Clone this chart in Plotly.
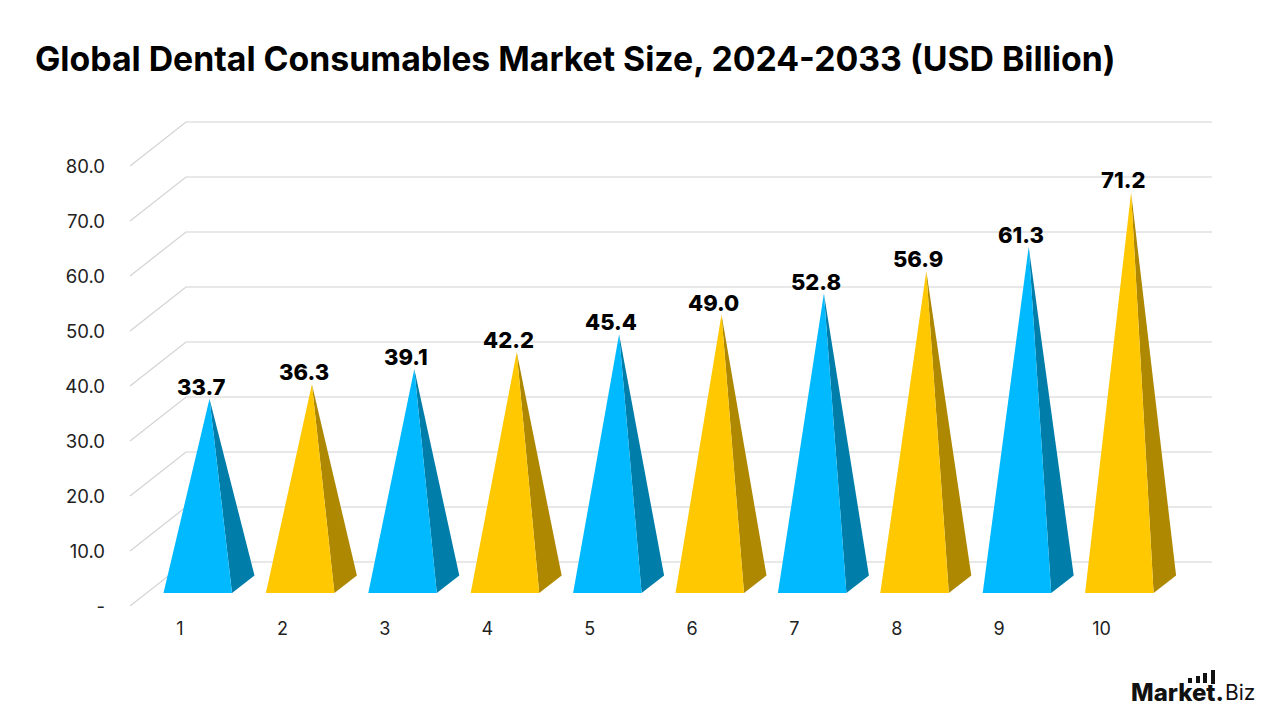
import plotly.graph_objects as go

# Chart data
categories = [1, 2, 3, 4, 5, 6, 7, 8, 9, 10]
market_size = [33.7, 36.3, 39.1, 42.2, 45.4, 49.0, 52.8, 56.9, 61.3, 71.2]
value_labels = ["33.7", "36.3", "39.1", "42.2", "45.4", "49.0", "52.8", "56.9", "61.3", "71.2"]
y_ticks = [0, 10, 20, 30, 40, 50, 60, 70, 80]
y_tick_labels = ["-", "10.0", "20.0", "30.0", "40.0", "50.0", "60.0", "70.0", "80.0"]

# Alternating pyramid colours: (front face, side face)
BLUE = ("#00B9FF", "#007EA9")
GOLD = ("#FFC800", "#AD8800")

FONT = "Inter"
TEXT = "#222222"
GRID = "#D2D2D2"

# Canvas and plot area, in pixels
W, H = 1280, 720
LEFT, RIGHT, TOP, BOTTOM = 130, 1212, 111, 606
PX_PER_CAT = 102.4
PX_PER_UNIT = 5.5
X_RANGE = [1 - (180 - LEFT) / PX_PER_CAT, 1 + (RIGHT - 180) / PX_PER_CAT]
Y_RANGE = [0, (BOTTOM - TOP) / PX_PER_UNIT]


def dx(px):
    return px / PX_PER_CAT


def dy(px):
    return px / PX_PER_UNIT


def paper_x(px):
    return (px - LEFT) / (RIGHT - LEFT)


def paper_y(px):
    return (BOTTOM - px) / (BOTTOM - TOP)


fig = go.Figure()

# Gridlines: a diagonal over the side wall, then a level run across the back wall
WALL_DX, WALL_DY = dx(56), dy(44)
for v in y_ticks:
    fig.add_trace(go.Scatter(
        x=[X_RANGE[0], X_RANGE[0] + WALL_DX, X_RANGE[1]],
        y=[v, v + WALL_DY, v + WALL_DY],
        mode="lines",
        line=dict(color=GRID, width=1.2),
        hoverinfo="skip",
        showlegend=False,
    ))

# Pyramids: a front face and a side face meeting at the apex
BASE_LEFT, BASE_RIGHT = dx(-16.5), dx(52)
BASE_Y = dy(13)
DEPTH_DX, DEPTH_DY = dx(22.5), dy(17.5)
APEX_DX, APEX_Y = dx(29.5), dy(22)

for i, (cat, val) in enumerate(zip(categories, market_size)):
    front, side = BLUE if i % 2 == 0 else GOLD
    apex_x, apex_y = cat + APEX_DX, val + APEX_Y
    fig.add_trace(go.Scatter(
        x=[cat + BASE_RIGHT, cat + BASE_RIGHT + DEPTH_DX, apex_x, cat + BASE_RIGHT],
        y=[BASE_Y, BASE_Y + DEPTH_DY, apex_y, BASE_Y],
        mode="lines", fill="toself", fillcolor=side,
        line=dict(width=0), hoverinfo="skip", showlegend=False,
    ))
    fig.add_trace(go.Scatter(
        x=[cat + BASE_LEFT, cat + BASE_RIGHT, apex_x, cat + BASE_LEFT],
        y=[BASE_Y, BASE_Y, apex_y, BASE_Y],
        mode="lines", fill="toself", fillcolor=front,
        line=dict(width=0), hoverinfo="skip", showlegend=False,
    ))
    fig.add_annotation(
        x=apex_x, y=apex_y, text=value_labels[i],
        showarrow=False, xanchor="center", yanchor="middle",
        xshift=-8, yshift=12,
        font=dict(family=FONT, size=22, color="#000000", weight=800),
    )

# Title
fig.add_annotation(
    xref="paper", yref="paper", x=paper_x(33), y=paper_y(59),
    text="Global Dental Consumables Market Size, 2024-2033 (USD Billion)",
    showarrow=False, xanchor="left", yanchor="middle",
    font=dict(family=FONT, size=33.8, color="#000000", weight=700),
)

# Brand mark in the lower right corner
fig.add_annotation(
    xref="paper", yref="paper", x=paper_x(1226), y=paper_y(692),
    text="Market.", showarrow=False, xanchor="right", yanchor="middle",
    font=dict(family=FONT, size=24, color="#111111", weight=800),
)
fig.add_annotation(
    xref="paper", yref="paper", x=paper_x(1257), y=paper_y(692),
    text="Biz", showarrow=False, xanchor="right", yanchor="middle",
    font=dict(family=FONT, size=21, color="#111111", weight=400),
)
for x0, x1, y0, y1 in [(1188, 1192, 678, 683), (1196, 1200, 676, 683),
                       (1203, 1207, 673, 683), (1211, 1215, 670, 684)]:
    fig.add_shape(
        type="rect", xref="paper", yref="paper", line_width=0, fillcolor="#111111",
        x0=paper_x(x0), x1=paper_x(x1), y0=paper_y(y1), y1=paper_y(y0),
    )

fig.update_layout(
    width=W, height=H,
    margin=dict(l=LEFT, r=W - RIGHT, t=TOP, b=H - BOTTOM, pad=0),
    paper_bgcolor="#FFFFFF", plot_bgcolor="#FFFFFF",
    showlegend=False,
    xaxis=dict(
        range=X_RANGE, tickmode="array", tickvals=categories,
        ticktext=[str(c) for c in categories],
        showgrid=False, zeroline=False, showline=False, ticks="",
        ticklabelstandoff=10,
        tickfont=dict(family=FONT, size=18, color=TEXT),
    ),
    yaxis=dict(
        range=Y_RANGE, tickmode="array", tickvals=y_ticks, ticktext=y_tick_labels,
        showgrid=False, zeroline=False, showline=False, ticks="",
        ticklabelstandoff=24,
        ticklabelshift=1,
        tickfont=dict(family=FONT, size=18.5, color=TEXT),
    ),
)

fig.write_html("out.html", config={"displayModeBar": False})
